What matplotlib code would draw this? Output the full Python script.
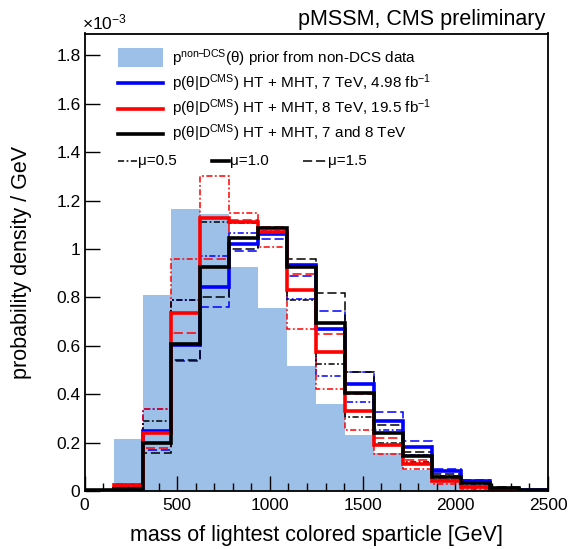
import numpy as np
import matplotlib.pyplot as plt
from matplotlib.patches import Rectangle
from matplotlib.lines import Line2D

plt.rcParams['font.family'] = ['Liberation Sans', 'DejaVu Sans']
plt.rcParams['mathtext.fontset'] = 'custom'
plt.rcParams['mathtext.rm'] = 'Liberation Sans'
plt.rcParams['mathtext.it'] = 'Liberation Sans:italic'

# 16 bins of 156.25 GeV, densities in units of 1e-3 / GeV
edges = np.linspace(0, 2500, 17)

prior = [0, 0.214, 0.81, 1.163, 1.146, 0.925, 0.755, 0.515,
         0.359, 0.232, 0.155, 0.085, 0.05, 0.02, 0, 0]

blue_mu05 = [0.003, 0.02, 0.338, 0.79, 0.97, 1.067, 1.076, 0.793,
             0.475, 0.368, 0.25, 0.15, 0.06, 0.03, 0.008, 0.002]
blue_mu10 = [0.002, 0.01, 0.246, 0.602, 0.843, 1.02, 1.06, 0.935,
             0.671, 0.44, 0.29, 0.183, 0.084, 0.042, 0.01, 0.003]
blue_mu15 = [0.002, 0.008, 0.17, 0.537, 0.76, 0.99, 1.04, 0.887,
             0.742, 0.492, 0.325, 0.205, 0.09, 0.045, 0.012, 0.004]

red_mu05 = [0.003, 0.03, 0.338, 0.957, 1.303, 1.149, 1.01, 0.668,
            0.421, 0.25, 0.153, 0.089, 0.03, 0.01, 0.003, 0.001]
red_mu10 = [0.002, 0.025, 0.238, 0.737, 1.129, 1.11, 1.072, 0.829,
            0.574, 0.33, 0.19, 0.11, 0.04, 0.015, 0.005, 0.002]
red_mu15 = [0.002, 0.02, 0.179, 0.653, 0.96, 1.12, 1.09, 0.898,
            0.65, 0.4, 0.221, 0.128, 0.05, 0.02, 0.006, 0.002]

black_mu05 = [0.003, 0.015, 0.29, 0.788, 1.11, 1.108, 1.07, 0.79,
              0.524, 0.307, 0.2, 0.12, 0.045, 0.02, 0.006, 0.002]
black_mu10 = [0.003, 0.008, 0.2, 0.609, 0.925, 1.046, 1.087, 0.925,
              0.694, 0.405, 0.24, 0.144, 0.059, 0.032, 0.011, 0.004]
black_mu15 = [0.002, 0.006, 0.158, 0.54, 0.80, 1.0, 1.06, 0.96,
              0.818, 0.49, 0.272, 0.162, 0.07, 0.04, 0.015, 0.005]

x_ticks = [0, 500, 1000, 1500, 2000, 2500]
y_ticks = [0, 0.2, 0.4, 0.6, 0.8, 1.0, 1.2, 1.4, 1.6, 1.8]
y_tick_labels = ['0', '0.2', '0.4', '0.6', '0.8', '1', '1.2', '1.4', '1.6', '1.8']

legend_labels = [
    r'p$^{\mathrm{non\!\!-\!\!DCS}}$(θ) prior from non-DCS data',
    r'p(θ|D$^{\mathrm{CMS}}$) HT + MHT, 7 TeV, 4.98 fb$^{-1}$',
    r'p(θ|D$^{\mathrm{CMS}}$) HT + MHT, 8 TeV, 19.5 fb$^{-1}$',
    r'p(θ|D$^{\mathrm{CMS}}$) HT + MHT, 7 and 8 TeV',
]
mu_labels = ['μ=0.5', 'μ=1.0', 'μ=1.5']

FILL = '#9cc0e7'
BLUE = '#0000ff'
RED = '#ff0000'
DASHDOT = (0, (4, 1.6, 1.2, 1.6))
DASHED = (0, (6, 2.5))
THIN = 1.1
THICK = 2.6

W, H = 568, 549
fig = plt.figure(figsize=(W / 100, H / 100), dpi=100)
ax = fig.add_axes([84.6 / W, 1 - 491 / H, (548 - 84.6) / W, (491 - 33.5) / H])

ax.stairs(prior, edges, fill=True, color=FILL, lw=0, zorder=1)

curves = [
    (blue_mu05, BLUE, DASHDOT, THIN), (red_mu05, RED, DASHDOT, THIN),
    (black_mu05, 'black', DASHDOT, THIN),
    (blue_mu15, BLUE, DASHED, THIN), (red_mu15, RED, DASHED, THIN),
    (black_mu15, 'black', DASHED, THIN),
    (blue_mu10, BLUE, '-', THICK), (red_mu10, RED, '-', THICK),
    (black_mu10, 'black', '-', THICK),
]
for i, (vals, col, ls, lw) in enumerate(curves):
    ax.stairs(vals, edges, color=col, linestyle=ls, lw=lw, baseline=0, zorder=2 + i)

ax.set_xlim(0, 2500)
ax.set_ylim(0, 1.89)
ax.set_xticks(x_ticks)
ax.set_xticks(np.arange(0, 2501, 100), minor=True)
ax.set_yticks(y_ticks)
ax.set_yticklabels(y_tick_labels)
ax.tick_params(axis='x', which='major', direction='in', length=11, width=1, labelsize=12.5, pad=5)
ax.tick_params(axis='x', which='minor', direction='in', length=6, width=1)
ax.tick_params(axis='y', which='major', direction='in', length=11, width=1, labelsize=12.5, pad=3)
for s in ax.spines.values():
    s.set_linewidth(1.3)
    s.set_zorder(20)

ax.set_xlabel('mass of lightest colored sparticle [GeV]', fontsize=15.5, va='center')
ax.xaxis.set_label_coords(0.5, -0.097)
ax.set_ylabel('probability density / GeV', fontsize=15.5, va='center')
ax.yaxis.set_label_coords(-0.137, 0.5)

fig.text(545 / W, 1 - 20 / H, 'pMSSM, CMS preliminary', ha='right', va='center', fontsize=15.5)
fig.text(82 / W, 1 - 22 / H, r'×10$^{-3}$', ha='left', va='center', fontsize=12.5)


def fx(px):
    return px / W


def fy(py):
    return 1 - py / H


# legend, drawn by hand in figure coordinates
fig.patches.append(Rectangle((fx(118), fy(67)), fx(163) - fx(118), fy(48) - fy(67),
                             transform=fig.transFigure, color=FILL, lw=0))
for py, col in [(83, BLUE), (109, RED), (134, 'black')]:
    fig.lines.append(Line2D([fx(118), fx(163)], [fy(py), fy(py)], color=col, lw=THICK,
                            transform=fig.transFigure))
for py, txt in zip([58, 83, 108, 133], legend_labels):
    fig.text(fx(172), fy(py), txt, ha='left', va='center', fontsize=11)

mu_rows = [(118, 137, DASHDOT, THIN), (212, 229, '-', THICK), (303, 327, DASHED, THIN)]
for (x0, x1, ls, lw), txt in zip(mu_rows, mu_labels):
    fig.lines.append(Line2D([fx(x0), fx(x1)], [fy(161), fy(161)], color='black', lw=lw,
                            linestyle=ls, transform=fig.transFigure))
    fig.text(fx(x1 + 1), fy(161), txt, ha='left', va='center', fontsize=11)

fig.savefig('out.png', dpi=100)
